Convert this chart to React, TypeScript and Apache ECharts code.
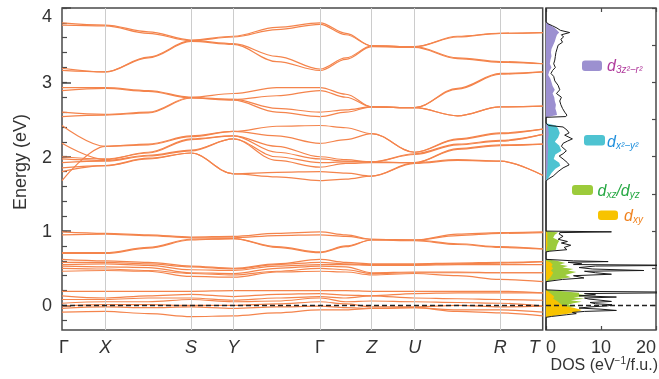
import React, { useEffect, useRef } from 'react';
import * as echarts from 'echarts';

const FONT = '"Liberation Sans", Arial, Helvetica, sans-serif';
const TEXT = '#333333';
const FRAME = '#4a4a4a';
const BAND = '#f4844c';

// k-path sample positions (cumulative path length, arbitrary units)
// Γ, X, mid X-S, S, Y, mid Y-Γ, Γ, mid Γ-Z, Z, U, mid U-R, R, T
const kPos = [0, 43.3, 86.2, 129, 171.3, 214.7, 258, 283.9, 309.7, 352.7, 395.5, 438.3, 480.7];
const kTickPos = [0, 43.3, 129, 171.3, 258, 309.7, 352.7, 438.3, 480.7];
const kTickLabels = ['Γ', 'X', 'S', 'Y', 'Γ', 'Z', 'U', 'R', 'T'];

const eMajorTicks = [0, 1, 2, 3, 4];
const eMinorTicks = [-0.2, 0, 0.2, 0.4, 0.6, 0.8, 1, 1.2, 1.4, 1.6, 1.8, 2, 2.2, 2.4, 2.6, 2.8, 3, 3.2, 3.4, 3.6, 3.8, 4];
const dosETicks = [0, 0.5, 1, 1.5, 2, 2.5, 3, 3.5, 4];

// band energies (eV) at kPos
const bandsAB = [
  [3.80, 3.77, 3.68, 3.57, 3.62, 3.74, 3.80, 3.66, 3.49, 3.48, 3.62, 3.66, 3.67],
  [3.77, 3.76, 3.66, 3.56, 3.61, 3.71, 3.78, 3.64, 3.49, 3.48, 3.61, 3.66, 3.67],
  [3.19, 3.14, 3.34, 3.56, 3.52, 3.35, 3.18, 3.33, 3.49, 3.48, 3.33, 3.28, 3.25],
  [3.16, 3.14, 3.33, 3.55, 3.51, 3.28, 3.16, 3.31, 3.48, 3.47, 3.32, 3.27, 3.25],
];
const bandsC = [
  [2.93, 2.93, 2.89, 2.80, 2.85, 2.93, 2.93, 2.84, 2.67, 2.66, 2.92, 3.12, 3.14],
  [2.89, 2.92, 2.88, 2.79, 2.77, 2.82, 2.89, 2.80, 2.67, 2.66, 2.91, 3.11, 3.14],
  [2.60, 2.57, 2.60, 2.80, 2.77, 2.65, 2.60, 2.63, 2.67, 2.66, 2.55, 2.67, 2.68],
  [2.54, 2.56, 2.59, 2.79, 2.76, 2.60, 2.54, 2.60, 2.67, 2.66, 2.55, 2.67, 2.68],
];
const bandsD = [
  [2.42, 2.14, 2.17, 2.28, 2.34, 2.41, 2.42, 2.39, 2.31, 2.06, 2.24, 2.32, 2.37],
  [1.68, 2.14, 2.16, 2.27, 2.34, 2.28, 2.18, 2.23, 2.31, 2.06, 2.23, 2.31, 2.37],
  [2.18, 1.96, 2.06, 2.24, 2.28, 2.14, 2.00, 1.96, 1.93, 2.04, 2.17, 2.22, 2.30],
  [2.00, 1.97, 2.05, 2.23, 2.28, 2.06, 1.97, 1.94, 1.93, 2.03, 2.16, 2.21, 2.30],
  [1.97, 1.95, 2.02, 2.09, 2.24, 2.00, 1.92, 1.93, 1.93, 1.92, 2.11, 2.16, 2.17],
  [1.92, 1.94, 2.01, 2.08, 2.24, 1.95, 1.86, 1.91, 1.92, 1.92, 2.10, 2.15, 2.17],
  [1.85, 1.88, 1.98, 2.05, 1.77, 1.79, 1.80, 1.78, 1.74, 1.92, 1.96, 1.94, 1.75],
  [1.80, 1.88, 1.97, 2.05, 1.77, 1.73, 1.68, 1.70, 1.74, 1.91, 1.95, 1.94, 1.75],
];
const bandsE = [
  [0.99, 0.97, 0.95, 0.92, 0.93, 0.97, 0.99, 0.95, 0.89, 0.88, 0.96, 0.98, 0.99],
  [0.95, 0.96, 0.94, 0.91, 0.91, 0.94, 0.95, 0.93, 0.89, 0.88, 0.94, 0.97, 0.98],
  [0.71, 0.71, 0.78, 0.89, 0.90, 0.79, 0.72, 0.80, 0.88, 0.88, 0.83, 0.79, 0.76],
  [0.70, 0.70, 0.77, 0.88, 0.90, 0.78, 0.71, 0.79, 0.88, 0.87, 0.82, 0.78, 0.76],
];
const bandsF = [
  [0.62, 0.60, 0.58, 0.53, 0.50, 0.56, 0.62, 0.58, 0.56, 0.56, 0.57, 0.58, 0.59],
  [0.58, 0.58, 0.56, 0.52, 0.49, 0.55, 0.58, 0.56, 0.55, 0.55, 0.56, 0.57, 0.59],
  [0.55, 0.56, 0.54, 0.48, 0.47, 0.53, 0.55, 0.55, 0.54, 0.54, 0.55, 0.55, 0.55],
  [0.53, 0.52, 0.51, 0.44, 0.43, 0.50, 0.53, 0.52, 0.44, 0.45, 0.45, 0.44, 0.44],
  [0.50, 0.49, 0.47, 0.43, 0.41, 0.46, 0.50, 0.48, 0.43, 0.44, 0.44, 0.44, 0.44],
  [0.46, 0.47, 0.46, 0.39, 0.38, 0.45, 0.46, 0.45, 0.41, 0.43, 0.40, 0.35, 0.32],
];
const bandsG = [
  [0.19, 0.19, 0.19, 0.19, 0.20, 0.20, 0.20, 0.20, 0.19, 0.19, 0.19, 0.19, 0.17],
  [0.13, 0.10, 0.13, 0.15, 0.12, 0.15, 0.16, 0.14, 0.13, 0.16, 0.17, 0.17, 0.17],
  [0.08, 0.08, 0.10, 0.10, 0.07, 0.10, 0.12, 0.10, 0.13, 0.10, 0.09, 0.08, 0.07],
  [0.03, 0.05, 0.05, 0.08, 0.05, 0.06, 0.10, 0.05, 0.06, 0.05, 0.04, 0.03, -0.01],
  [-0.01, 0.01, 0.01, 0.00, 0.00, 0.02, 0.05, 0.02, -0.02, -0.02, 0.00, -0.02, -0.01],
  [-0.04, -0.02, -0.03, -0.02, -0.04, -0.02, -0.01, -0.03, -0.04, -0.03, -0.06, -0.06, -0.09],
  [-0.09, -0.08, -0.11, -0.15, -0.14, -0.10, -0.06, -0.06, -0.04, -0.03, -0.08, -0.10, -0.14],
];

// DOS: [energy (eV), DOS (1/eV/f.u.)]
const dosTotal: [number, number][] = [
  [4.0, 0], [3.82, 0], [3.79, 0.3], [3.76, 1.2], [3.73, 2.0], [3.70, 2.6], [3.67, 4.3], [3.64, 2.8], [3.61, 3.2],
  [3.58, 2.7], [3.54, 3.0], [3.50, 2.2], [3.45, 2.0], [3.40, 1.8], [3.35, 1.7], [3.30, 1.6], [3.25, 1.4],
  [3.20, 1.7], [3.16, 1.2], [3.12, 0.9], [3.08, 1.4], [3.02, 1.6], [2.96, 2.2], [2.90, 2.5], [2.85, 1.9],
  [2.80, 2.8], [2.75, 2.5], [2.70, 2.7], [2.65, 3.0], [2.60, 3.4], [2.56, 3.8], [2.54, 3.6], [2.53, 0],
  [2.45, 0], [2.42, 0.5], [2.40, 3.1], [2.36, 3.8], [2.32, 4.2], [2.29, 3.4], [2.24, 4.8], [2.21, 3.9],
  [2.18, 3.1], [2.14, 2.8], [2.08, 3.7], [2.04, 3.1], [2.01, 2.4], [1.97, 3.1], [1.92, 3.9], [1.89, 4.2],
  [1.85, 3.1], [1.80, 2.2], [1.74, 1.3], [1.70, 0.4], [1.67, 0],
  [1.00, 0], [0.99, 11.9], [0.98, 2.5], [0.96, 2.4], [0.93, 3.1], [0.89, 2.2], [0.86, 3.9], [0.84, 2.8],
  [0.81, 4.5], [0.78, 3.3], [0.75, 3.8], [0.73, 0.7], [0.72, 0],
  [0.62, 0], [0.60, 5.0], [0.59, 11.3], [0.58, 4.0], [0.56, 6.5], [0.55, 5.0], [0.54, 26], [0.53, 9.0],
  [0.51, 6.0], [0.49, 8.5], [0.47, 17.8], [0.46, 7.0], [0.44, 9.0], [0.42, 11.9], [0.40, 5.0], [0.37, 6.9],
  [0.35, 3.0], [0.32, 0],
  [0.21, 0], [0.19, 6.0], [0.175, 30], [0.16, 7.0], [0.144, 9.0], [0.13, 6.0], [0.113, 12.8], [0.10, 7.0],
  [0.086, 7.8], [0.07, 10.0], [0.054, 11.9], [0.04, 8.0], [0.023, 9.0], [0.01, 12.0], [-0.004, 11.3],
  [-0.02, 8.0], [-0.035, 6.0], [-0.05, 10.0], [-0.067, 12.8], [-0.08, 7.0], [-0.094, 4.8], [-0.11, 5.5],
  [-0.125, 3.7], [-0.148, 1.0], [-0.16, 0], [-0.33, 0],
];
const dosD3z2: [number, number][] = [
  [3.81, 0], [3.77, 0.8], [3.73, 1.6], [3.70, 2.0], [3.67, 2.4], [3.64, 2.0], [3.60, 1.8], [3.55, 1.6],
  [3.50, 1.3], [3.45, 1.0], [3.40, 0.9], [3.35, 1.0], [3.30, 0.8], [3.25, 0.7], [3.20, 1.0], [3.15, 0.6],
  [3.10, 0.4], [3.05, 0.8], [3.00, 1.0], [2.95, 1.2], [2.90, 1.6], [2.85, 1.2], [2.80, 1.5], [2.75, 1.6],
  [2.70, 1.8], [2.65, 1.7], [2.60, 1.9], [2.56, 2.0], [2.53, 0],
  [2.45, 0], [2.40, 0.4], [2.30, 0.5], [2.20, 0.3], [2.10, 0.4], [2.00, 0.3], [1.90, 0.3], [1.80, 0.2], [1.67, 0],
];
const dosDx2y2: [number, number][] = [
  [2.78, 0], [2.72, 0.3], [2.62, 0.4], [2.55, 0.4], [2.53, 0],
  [2.45, 0], [2.42, 1.8], [2.38, 2.2], [2.32, 2.5], [2.26, 2.2], [2.20, 1.6], [2.15, 2.4], [2.08, 2.8],
  [2.03, 1.7], [1.97, 1.4], [1.92, 2.4], [1.88, 2.6], [1.84, 1.7], [1.78, 1.0], [1.72, 0.5], [1.67, 0],
];
const dosDxzDyz: [number, number][] = [
  [1.00, 0], [0.98, 2.2], [0.95, 1.6], [0.91, 1.3], [0.87, 2.4], [0.83, 2.1], [0.79, 1.9], [0.75, 1.8], [0.72, 0],
  [0.62, 0], [0.60, 2.0], [0.57, 3.5], [0.55, 2.5], [0.53, 4.0], [0.51, 3.0], [0.49, 5.0], [0.47, 4.0],
  [0.45, 5.5], [0.43, 4.5], [0.41, 3.5], [0.38, 4.5], [0.35, 2.0], [0.32, 0],
  [0.21, 0], [0.19, 3.0], [0.17, 6.0], [0.15, 6.0], [0.13, 8.0], [0.11, 5.0], [0.09, 7.0], [0.07, 4.5],
  [0.05, 6.5], [0.03, 5.0], [0.01, 4.0], [-0.01, 5.5], [-0.03, 3.0], [-0.05, 4.0], [-0.07, 3.0],
  [-0.09, 3.5], [-0.11, 2.5], [-0.13, 1.5], [-0.16, 0],
];
const dosDxy: [number, number][] = [
  [1.00, 0], [0.97, 0.25], [0.80, 0.25], [0.72, 0],
  [0.60, 0], [0.58, 0.8], [0.55, 1.2], [0.52, 1.0], [0.50, 1.3], [0.47, 0.9], [0.44, 1.3], [0.40, 1.0],
  [0.36, 0.6], [0.33, 0],
  [0.21, 0], [0.18, 0.5], [0.15, 1.0], [0.12, 1.5], [0.09, 1.3], [0.06, 2.0], [0.03, 2.5], [0.00, 3.0],
  [-0.03, 5.0], [-0.06, 6.5], [-0.09, 5.5], [-0.11, 4.0], [-0.13, 2.0], [-0.16, 0],
];

const C_PURPLE = '#9c90d0';
const C_CYAN = '#4ec3d1';
const C_GREEN = '#9ccb3b';
const C_YELLOW = '#f7c300';

function fillSeries(arr: [number, number][], color: string, z: number) {
  return {
    type: 'custom',
    coordinateSystem: 'cartesian2d',
    xAxisIndex: 1,
    yAxisIndex: 2,
    z,
    silent: true,
    clip: true,
    data: [[0, 0]],
    renderItem: (_p: any, api: any) => {
      const pts = arr.map(([e, d]) => api.coord([d, e]));
      return { type: 'polygon', shape: { points: pts }, style: { fill: color, stroke: null } };
    },
  };
}

function legendText(x: number, y: number, text: string, color: string) {
  return {
    type: 'text',
    x,
    y,
    z: 100,
    style: {
      text,
      align: 'left',
      verticalAlign: 'middle',
      rich: {
        d: { fontSize: 16, fontStyle: 'italic', fontFamily: FONT, fill: color, lineHeight: 18, verticalAlign: 'middle' },
        s: { fontSize: 10, fontStyle: 'italic', fontFamily: FONT, fill: color, lineHeight: 8, verticalAlign: 'bottom' },
      },
    },
  };
}

export default function App() {
  const ref = useRef<HTMLDivElement>(null);
  useEffect(() => {
    if (!ref.current) return;
    const chart = echarts.init(ref.current, null, { renderer: 'svg' });
    const allBands = [...bandsAB, ...bandsC, ...bandsD, ...bandsE, ...bandsF, ...bandsG];
    const bandSeries = allBands.map((b) => ({
      type: 'line',
      xAxisIndex: 0,
      yAxisIndex: 0,
      data: kPos.map((k, i) => [k, b[i]]),
      showSymbol: false,
      smooth: 0.35,
      smoothMonotone: 'x',
      lineStyle: { color: BAND, width: 1.2 },
      z: 3,
      silent: true,
    }));

    const option: any = {
      animation: false,
      grid: [
        { left: 62, top: 8, width: 480.7, height: 322, show: true, borderColor: FRAME, borderWidth: 1.5 },
        { left: 546, top: 8, width: 113, height: 322, show: true, borderColor: FRAME, borderWidth: 1.5 },
      ],
      xAxis: [
        {
          gridIndex: 0, type: 'value', min: 0, max: 480.7, position: 'bottom',
          axisLine: { show: false, onZero: false }, axisTick: { show: false }, splitLine: { show: false },
          axisLabel: {
            customValues: kTickPos,
            margin: 8,
            formatter: (v: number) => {
              const i = kTickPos.findIndex((p) => Math.abs(p - v) < 0.05);
              const s = i >= 0 ? kTickLabels[i] : '';
              if (i === kTickPos.length - 1) return `{e|${s}}`;
              if (i === 0) return `{b|${s}}`;
              return s === 'Γ' ? `{g|${s}}` : `{i|${s}}`;
            },
            rich: {
              g: { fontSize: 18, fontFamily: FONT, color: TEXT },
              b: { fontSize: 18, fontFamily: FONT, color: TEXT, padding: [0, 0, 0, 4] },
              i: { fontSize: 18, fontFamily: FONT, color: TEXT, fontStyle: 'italic' },
              e: { fontSize: 18, fontFamily: FONT, color: TEXT, fontStyle: 'italic', padding: [0, 17, 0, 0] },
            },
          },
        },
        {
          gridIndex: 1, type: 'value', min: 0, max: 20, interval: 10, position: 'bottom',
          axisLine: { show: false, onZero: false },
          axisTick: { show: true, inside: true, length: 4, lineStyle: { color: FRAME, width: 1.2 } },
          splitLine: { show: false },
          axisLabel: { fontSize: 18, fontFamily: FONT, color: TEXT, margin: 8, alignMinLabel: 'left', alignMaxLabel: 'right' },
        },
        {
          gridIndex: 1, type: 'value', min: 0, max: 20, interval: 10, position: 'top',
          axisLine: { show: false, onZero: false },
          axisTick: { show: true, inside: true, length: 4, lineStyle: { color: FRAME, width: 1.2 } },
          splitLine: { show: false }, axisLabel: { show: false },
        },
      ],
      yAxis: [
        {
          gridIndex: 0, type: 'value', min: -0.33, max: 4, position: 'left',
          axisLine: { show: false, onZero: false },
          axisTick: { show: true, inside: true, length: 9, customValues: eMajorTicks, lineStyle: { color: FRAME, width: 1.5 } },
          splitLine: { show: false },
          axisLabel: {
            customValues: eMajorTicks,
            fontSize: 18, fontFamily: FONT, color: TEXT, margin: 10,
            formatter: (v: number) => (v === 4 ? '{t|4}' : String(v)),
            rich: { t: { fontSize: 18, fontFamily: FONT, color: TEXT, padding: [15, 0, 0, 0] } },
          },
        },
        {
          gridIndex: 0, type: 'value', min: -0.33, max: 4, position: 'left', offset: 0,
          axisLine: { show: false, onZero: false },
          axisTick: { show: true, inside: true, length: 5, customValues: eMinorTicks, lineStyle: { color: FRAME, width: 1.2 } },
          splitLine: { show: false }, axisLabel: { show: false },
        },
        {
          gridIndex: 1, type: 'value', min: -0.33, max: 4, position: 'right',
          axisLine: { show: false, onZero: false },
          axisTick: { show: true, inside: true, length: 4, customValues: dosETicks, lineStyle: { color: FRAME, width: 1.2 } },
          splitLine: { show: false }, axisLabel: { show: false },
        },
      ],
      graphic: [
        {
          type: 'text', x: 20, y: 162, rotation: Math.PI / 2,
          style: { text: 'Energy (eV)', align: 'center', verticalAlign: 'middle', fontSize: 18, fontFamily: FONT, fill: TEXT },
        },
        {
          type: 'text', x: 658, y: 364,
          style: {
            text: '{a|DOS (eV}{b|−1}{a|/f.u.)}', align: 'right', verticalAlign: 'middle',
            rich: {
              a: { fontSize: 16, fontFamily: FONT, fill: TEXT, lineHeight: 18, verticalAlign: 'middle' },
              b: { fontSize: 10, fontFamily: FONT, fill: TEXT, lineHeight: 10, verticalAlign: 'top' },
            },
          },
        },
        { type: 'rect', z: 100, shape: { x: 582, y: 60.5, width: 20, height: 10.5, r: 3 }, style: { fill: C_PURPLE } },
        legendText(607, 65.7, '{d|d}{s|3z²−r²}', '#b03a9c'),
        { type: 'rect', z: 100, shape: { x: 584, y: 135, width: 21, height: 10.5, r: 3 }, style: { fill: C_CYAN } },
        legendText(607, 141, '{d|d}{s|x²−y²}', '#1f8fdc'),
        { type: 'rect', z: 100, shape: { x: 572, y: 185, width: 21, height: 10, r: 3 }, style: { fill: C_GREEN } },
        legendText(597.5, 190, '{d|d}{s|xz}{d|/d}{s|yz}', '#27a844'),
        { type: 'rect', z: 100, shape: { x: 598, y: 210.5, width: 20, height: 9.5, r: 3 }, style: { fill: C_YELLOW } },
        legendText(624, 215, '{d|d}{s|xy}', '#f0821e'),
      ],
      series: [
        {
          type: 'line', xAxisIndex: 0, yAxisIndex: 0, data: [], z: 1, silent: true,
          markLine: {
            silent: true, symbol: ['none', 'none'], label: { show: false }, animation: false,
            lineStyle: { color: '#cccccc', width: 1, type: 'solid' },
            data: kTickPos.slice(1, -1).map((v) => ({ xAxis: v })),
          },
        },
        ...bandSeries,
        {
          type: 'line', xAxisIndex: 0, yAxisIndex: 0, data: [], z: 6, silent: true,
          markLine: {
            silent: true, symbol: ['none', 'none'], label: { show: false }, animation: false,
            lineStyle: { color: '#222222', width: 1.3, type: [5, 3] },
            data: [{ yAxis: 0 }],
          },
        },
        fillSeries(dosDxzDyz, C_GREEN, 2),
        fillSeries(dosDxy, C_YELLOW, 2),
        fillSeries(dosDx2y2, C_CYAN, 2),
        fillSeries(dosD3z2, C_PURPLE, 2),
        {
          type: 'line', xAxisIndex: 1, yAxisIndex: 2, z: 5, silent: true, clip: true,
          data: dosTotal.map(([e, d]) => [d, e]),
          showSymbol: false,
          lineStyle: { color: '#1a1a1a', width: 1 },
          markLine: {
            silent: true, symbol: ['none', 'none'], label: { show: false }, animation: false,
            lineStyle: { color: '#222222', width: 1.3, type: [5, 3] },
            data: [{ yAxis: 0 }],
          },
        },
      ],
    };
    chart.setOption(option);
    return () => chart.dispose();
  }, []);
  return <div ref={ref} style={{ position: 'fixed', left: 0, top: 0, width: 659, height: 379 }} />;
}
